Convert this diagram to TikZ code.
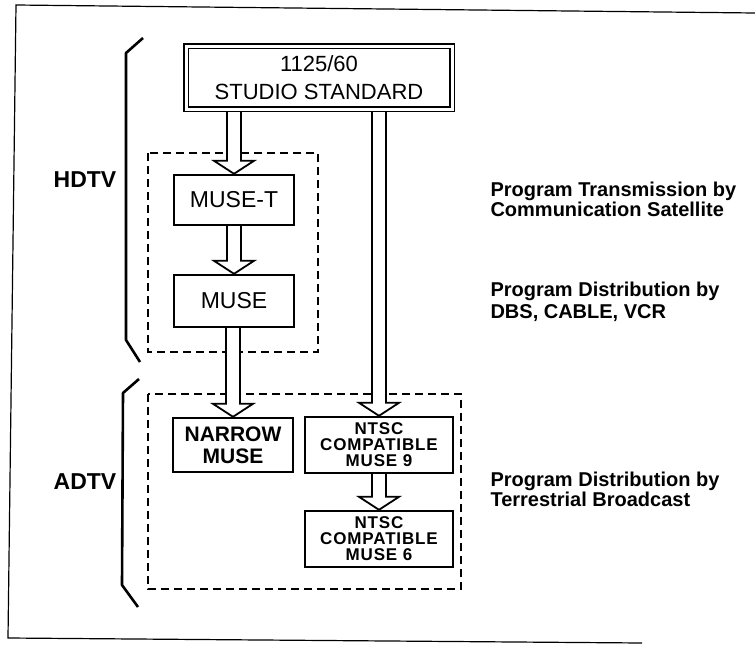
\documentclass[tikz,border=0pt]{standalone}
\usepackage{fontspec}
\setmainfont{Liberation Sans}
\usetikzlibrary{calc,backgrounds}

\tikzset{
  box/.style={draw, line width=2.4pt, inner sep=0pt, align=center},
  grp/.style={draw, line width=2pt, dash pattern=on 8pt off 5pt},
  blk/.style={draw, fill=white, line width=1.8pt, line join=miter},
  brace/.style={line width=2.6pt, line join=round}
}

% hollow block arrow: from the bottom of #1 down to the top of #2
\newcommand{\blockarr}[2]{%
  \path[blk] let \p1=(#1), \p2=(#2) in
    (\x2-7pt,\y1) -- (\x2-7pt,\y2+13pt) -- (\x2-20pt,\y2+13pt) -- (\x2,\y2)
    -- (\x2+20pt,\y2+13pt) -- (\x2+7pt,\y2+13pt) -- (\x2+7pt,\y1);}

\begin{document}
\begin{tikzpicture}[x=1pt,y=-1pt]
\useasboundingbox (0,0) rectangle (755,645);

\draw[line width=1.2pt] (755,13) -- (16,5) -- (8,638) -- (642,643);

\node[box, double, double distance=3pt, line width=1.5pt, minimum width=266pt, minimum height=63pt,
      font=\fontsize{22}{28}\selectfont] (studio) at (319,77.5) {1125/60\\STUDIO STANDARD};

\node[box, minimum width=120pt, minimum height=50pt, font=\fontsize{23}{24}\selectfont] (muset) at (234,200) {MUSE-T};
\node[box, minimum width=120pt, minimum height=52pt, font=\fontsize{23}{24}\selectfont] (muse) at (234,301) {MUSE};
\node[box, minimum width=120pt, minimum height=54pt, font=\bfseries\fontsize{21}{22}\selectfont] (narrow) at (233,445) {NARROW\\MUSE};
\node[box, minimum width=148pt, minimum height=56pt, font=\bfseries\fontsize{17}{16}\selectfont\addfontfeatures{LetterSpace=5}] (ntsc9) at (379,445) {NTSC\\COMPATIBLE\\MUSE 9};
\node[box, minimum width=148pt, minimum height=56pt, font=\bfseries\fontsize{17}{16}\selectfont\addfontfeatures{LetterSpace=5}] (ntsc6) at (379,539) {NTSC\\COMPATIBLE\\MUSE 6};

\begin{scope}[on background layer]
\draw[grp] (148,153) rectangle (318,352);
\draw[grp] (148,394) rectangle (461,589);
\blockarr{studio.south}{muset.north}
\blockarr{muset.south}{muse.north}
\blockarr{muse.south}{narrow.north}
\blockarr{studio.south}{ntsc9.north}
\blockarr{ntsc9.south}{ntsc6.north}
\end{scope}

\draw[brace] (143,38) -- (126,53) -- (126,340) -- (140,362);
\draw[brace] (139,379) -- (123,393) -- (122,585) -- (138,607);
\node[font=\bfseries\fontsize{23}{24}\selectfont] (hdtv) at (85,180) {HDTV};
\node[font=\bfseries\fontsize{23}{24}\selectfont] (adtv) at (85,482) {ADTV};

\node[anchor=west, align=left, font=\bfseries\fontsize{20}{20}\selectfont] (sat) at (487,199)
  {Program Transmission by\\Communication Satellite};
\node[anchor=west, align=left, font=\bfseries\fontsize{20}{22}\selectfont] (dbs) at (487,302)
  {Program Distribution by\\DBS, CABLE, VCR};
\node[anchor=west, align=left, font=\bfseries\fontsize{20}{20}\selectfont] (terr) at (487,489)
  {Program Distribution by\\Terrestrial Broadcast};

\end{tikzpicture}
\end{document}
